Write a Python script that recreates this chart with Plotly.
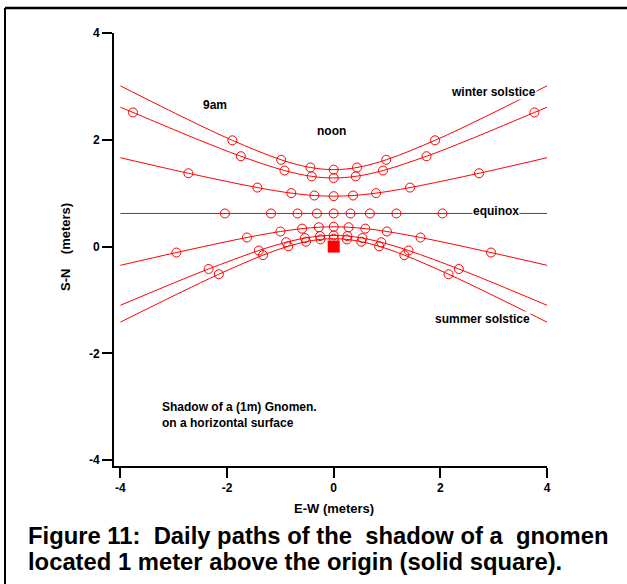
import plotly.graph_objects as go

# ---------------- data ----------------
# Winter solstice
win_mx = [-1.90, -0.985, -0.437, 0.0, 0.437, 0.985, 1.90]
win_my = [1.99, 1.625, 1.481, 1.441, 1.481, 1.625, 1.99]
win_lx = [-4.0, -2.745, -1.90, -0.985, -0.437, 0.0, 0.437, 0.985, 1.90, 2.745, 4.0]
win_ly = [3.01, 2.385, 1.99, 1.625, 1.481, 1.441, 1.481, 1.625, 1.99, 2.385, 3.01]

# Nov / Jan
nj_mx = [-3.764, -1.741, -0.924, -0.413, 0.0, 0.413, 0.924, 1.741, 3.764]
nj_my = [2.512, 1.692, 1.424, 1.315, 1.285, 1.315, 1.424, 1.692, 2.512]
nj_lx = [-4.0, -3.764, -2.522, -1.741, -0.924, -0.413, 0.0, 0.413, 0.924, 1.741, 2.522, 3.764, 4.0]
nj_ly = [2.61, 2.512, 1.995, 1.692, 1.424, 1.315, 1.285, 1.315, 1.424, 1.692, 1.995, 2.512, 2.61]

# Feb / Oct
fo_mx = [-2.725, -1.432, -0.795, -0.363, 0.0, 0.363, 0.795, 1.432, 2.725]
fo_my = [1.373, 1.105, 1.001, 0.956, 0.944, 0.956, 1.001, 1.105, 1.373]
fo_lx = [-4.0, -3.198, -2.725, -1.432, -0.795, -0.363, 0.0, 0.363, 0.795, 1.432, 2.725, 3.198, 4.0]
fo_ly = [1.664, 1.479, 1.373, 1.105, 1.001, 0.956, 0.944, 0.956, 1.001, 1.105, 1.373, 1.479, 1.664]

# Equinox
eq_mx = [-2.04, -1.176, -0.679, -0.315, 0.0, 0.315, 0.679, 1.176, 2.04]
eq_my = [0.62, 0.62, 0.62, 0.62, 0.62, 0.62, 0.62, 0.62, 0.62]
eq_lx = [-4.0, 4.0]
eq_ly = [0.62, 0.62]

# Apr / Aug
aa_mx = [-2.95, -1.627, -0.998, -0.593, -0.279, 0.0, 0.279, 0.593, 0.998, 1.627, 2.95]
aa_my = [-0.112, 0.170, 0.282, 0.336, 0.362, 0.370, 0.362, 0.336, 0.282, 0.170, -0.112]
aa_lx = [-4.0, -2.95, -1.627, -0.998, -0.593, -0.279, 0.0, 0.279, 0.593, 0.998, 1.627, 2.95, 4.0]
aa_ly = [-0.351, -0.112, 0.170, 0.282, 0.336, 0.362, 0.370, 0.362, 0.336, 0.282, 0.170, -0.112, -0.351]

# May / Jul
mj_mx = [-2.346, -1.404, -0.892, -0.539, -0.256, 0.0, 0.256, 0.539, 0.892, 1.404, 2.346]
mj_my = [-0.420, -0.074, 0.080, 0.159, 0.197, 0.209, 0.197, 0.159, 0.080, -0.074, -0.420]
mj_lx = [-4.0, -2.902, -2.346, -1.404, -0.892, -0.539, -0.256, 0.0, 0.256, 0.539, 0.892, 1.404, 2.346, 2.902, 4.0]
mj_ly = [-1.10, -0.642, -0.420, -0.074, 0.080, 0.159, 0.197, 0.209, 0.197, 0.159, 0.080, -0.074, -0.420, -0.642, -1.10]

# Summer solstice
sum_mx = [-2.154, -1.325, -0.852, -0.518, -0.247, 0.0, 0.247, 0.518, 0.852, 1.325, 2.154]
sum_my = [-0.518, -0.161, 0.005, 0.091, 0.134, 0.147, 0.134, 0.091, 0.005, -0.161, -0.518]
sum_lx = [-4.0, -2.855, -2.154, -1.325, -0.852, -0.518, -0.247, 0.0, 0.247, 0.518, 0.852, 1.325, 2.154, 2.855, 4.0]
sum_ly = [-1.415, -0.851, -0.518, -0.161, 0.005, 0.091, 0.134, 0.147, 0.134, 0.091, 0.005, -0.161, -0.518, -0.851, -1.415]

gnomon_x = [0.0]
gnomon_y = [0.0]

tick_vals = [-4, -2, 0, 2, 4]
tick_text = ["-4", "-2", "0", "2", "4"]

curves = [
    (win_lx, win_ly, win_mx, win_my),
    (nj_lx, nj_ly, nj_mx, nj_my),
    (fo_lx, fo_ly, fo_mx, fo_my),
    (eq_lx, eq_ly, eq_mx, eq_my),
    (aa_lx, aa_ly, aa_mx, aa_my),
    (mj_lx, mj_ly, mj_mx, mj_my),
    (sum_lx, sum_ly, sum_mx, sum_my),
]

RED = "#ff0000"
FONT = "Liberation Sans, Arial, Helvetica, sans-serif"

fig = go.Figure()
for lx, ly, mx, my in curves:
    fig.add_trace(go.Scatter(x=lx, y=ly, mode="lines",
                             line=dict(color=RED, width=1, shape="spline", smoothing=1.0),
                             hoverinfo="skip", showlegend=False))
for lx, ly, mx, my in curves:
    fig.add_trace(go.Scatter(x=mx, y=my, mode="markers",
                             marker=dict(symbol="circle-open", size=9, color=RED,
                                         line=dict(color=RED, width=1)),
                             showlegend=False))
fig.add_trace(go.Scatter(x=gnomon_x, y=gnomon_y, mode="markers",
                         marker=dict(symbol="square", size=12, color=RED,
                                     line=dict(width=0)),
                         showlegend=False))

L, T, W, H = 114, 33, 433, 433


def px(xp):
    return (xp - L) / W


def py(yp):
    return (T + H - yp) / H


lab_font = dict(family=FONT, size=12, color="black", weight="bold")
annotations = [
    dict(x=-2.22, y=2.66, xref="x", yref="y", text="9am", font=lab_font),
    dict(x=-0.04, y=2.17, xref="x", yref="y", text="noon", font=lab_font),
    dict(x=2.99, y=2.90, xref="x", yref="y", text="winter solstice", font=lab_font,
         bgcolor="white", borderpad=0),
    dict(x=3.05, y=0.66, xref="x", yref="y", text="equinox", font=lab_font,
         bgcolor="white", borderpad=0),
    dict(x=2.79, y=-1.355, xref="x", yref="y", text="summer solstice", font=lab_font,
         bgcolor="white", borderpad=0),
    dict(x=-3.25, y=-3.15, xref="x", yref="y", xanchor="left", align="left",
         text="Shadow of a (1m) Gnomen.<br>on a horizontal surface", font=lab_font),
    # axis titles
    dict(x=px(334), y=py(508), xref="paper", yref="paper",
         text="E-W (meters)", font=dict(family=FONT, size=13, color="black", weight="bold")),
    dict(x=px(65), y=py(247), xref="paper", yref="paper", textangle=-90,
         text="S-N\u00a0\u00a0\u00a0 (meters)",
         font=dict(family=FONT, size=13, color="black", weight="bold")),
    # caption
    dict(x=px(26), y=py(535), xref="paper", yref="paper", xanchor="left",
         text="Figure 11:\u00a0 Daily paths of the\u00a0 shadow of a\u00a0 gnomen",
         font=dict(family=FONT, size=23.8, color="black", weight="bold")),
    dict(x=px(26), y=py(561), xref="paper", yref="paper", xanchor="left",
         text="located 1 meter above the origin (solid square).",
         font=dict(family=FONT, size=23.8, color="black", weight="bold")),
]
for a in annotations:
    a.setdefault("showarrow", False)
    a.setdefault("yanchor", "middle")
    a.setdefault("xanchor", "center")

axis_common = dict(
    showline=True, linecolor="black", linewidth=2,
    ticks="outside", ticklen=10, tickwidth=2, tickcolor="black",
    tickvals=tick_vals, ticktext=tick_text,
    showgrid=False, zeroline=False,
    tickfont=dict(family=FONT, size=12, color="black", weight="bold"),
    fixedrange=True,
)

fig.update_layout(
    width=627, height=584,
    margin=dict(l=L, r=627 - L - W, t=T, b=584 - T - H),
    paper_bgcolor="white", plot_bgcolor="white",
    showlegend=False,
    xaxis=dict(range=[-4.12, 4.0], **axis_common),
    yaxis=dict(range=[-4.11, 4.0], **axis_common),
    annotations=annotations,
    shapes=[
        dict(type="line", xref="paper", yref="paper",
             x0=px(5), x1=px(5), y0=py(8), y1=py(600),
             line=dict(color="black", width=2)),
        dict(type="line", xref="paper", yref="paper",
             x0=px(5), x1=px(640), y0=py(8), y1=py(8),
             line=dict(color="black", width=2.5)),
    ],
)

fig.write_html(
    "out.html",
    config={"displayModeBar": False},
    post_script="document.body.style.margin='0';document.body.style.overflow='hidden';",
)
